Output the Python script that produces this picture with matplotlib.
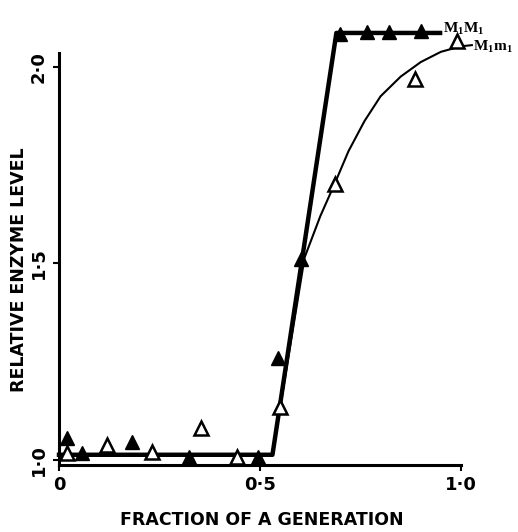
import matplotlib
matplotlib.use("Agg")
import matplotlib.pyplot as plt

# Data
filled_x = [0.020, 0.057, 0.182, 0.324, 0.494, 0.544, 0.603, 0.698, 0.766, 0.820, 0.900]
filled_y = [1.056, 1.018, 1.046, 1.008, 1.008, 1.260, 1.510, 2.084, 2.088, 2.088, 2.090]

open_x = [0.020, 0.120, 0.232, 0.354, 0.444, 0.549, 0.686, 0.885, 0.990]
open_y = [1.018, 1.038, 1.020, 1.081, 1.008, 1.135, 1.703, 1.970, 2.066]

fit_mm_x = [0.0, 0.531, 0.690, 0.948]
fit_mm_y = [1.013, 1.013, 2.086, 2.086]

fit_mn_x = [0.531, 0.611, 0.650, 0.686, 0.720, 0.760, 0.800, 0.850, 0.900, 0.950, 1.000, 1.027]
fit_mn_y = [1.013, 1.515, 1.620, 1.703, 1.785, 1.862, 1.925, 1.975, 2.012, 2.038, 2.052, 2.055]

xticks = [0.0, 0.5, 1.0]
xticklabels = ["0", "0·5", "1·0"]
yticks = [1.0, 1.5, 2.0]
yticklabels = ["1·0", "1·5", "2·0"]

W, H = 518, 532
fig = plt.figure(figsize=(W/100, H/100), dpi=100)
ax = fig.add_axes([59/W, 1-465/H, (461-59)/W, (465-53)/H])
ax.set_xlim(0.0, 1.0)
ax.set_ylim(0.987, 2.035)

ax.plot(fit_mm_x, fit_mm_y, color="black", lw=3.2, clip_on=False, zorder=3)
ax.plot(fit_mn_x, fit_mn_y, color="black", lw=1.5, clip_on=False, zorder=3)
ax.plot(filled_x, filled_y, linestyle="none", marker="^", ms=10, color="black",
        clip_on=False, zorder=4)
ax.plot(open_x, open_y, linestyle="none", marker="^", ms=10, mfc="white",
        mec="black", mew=1.8, clip_on=False, zorder=4)

ax.text(0.955, 2.098, r"M$_\mathregular{1}$M$_\mathregular{1}$", fontsize=11,
        family="Liberation Serif", fontweight="bold", va="center", ha="left")
ax.text(1.030, 2.052, r"M$_\mathregular{1}$m$_\mathregular{1}$", fontsize=11,
        family="Liberation Serif", fontweight="bold", va="center", ha="left")

for s in ["top", "right"]:
    ax.spines[s].set_visible(False)
for s in ["left", "bottom"]:
    ax.spines[s].set_linewidth(2.2)

ax.set_xticks(xticks)
ax.set_xticklabels(xticklabels, fontsize=13, fontweight="bold")
ax.set_yticks(yticks)
ax.set_yticklabels(yticklabels, fontsize=13, fontweight="bold", rotation=90, va="center")
ax.tick_params(axis="both", length=4, width=1.5, direction="out", pad=4)

fig.text(262/W, 1-520/H, "FRACTION OF A GENERATION", fontsize=12.5, fontweight="bold",
         ha="center", va="center")
fig.text(19/W, 1-270/H, "RELATIVE ENZYME LEVEL", fontsize=12.5, fontweight="bold",
         ha="center", va="center", rotation=90)

fig.savefig("out.png", dpi=100)
